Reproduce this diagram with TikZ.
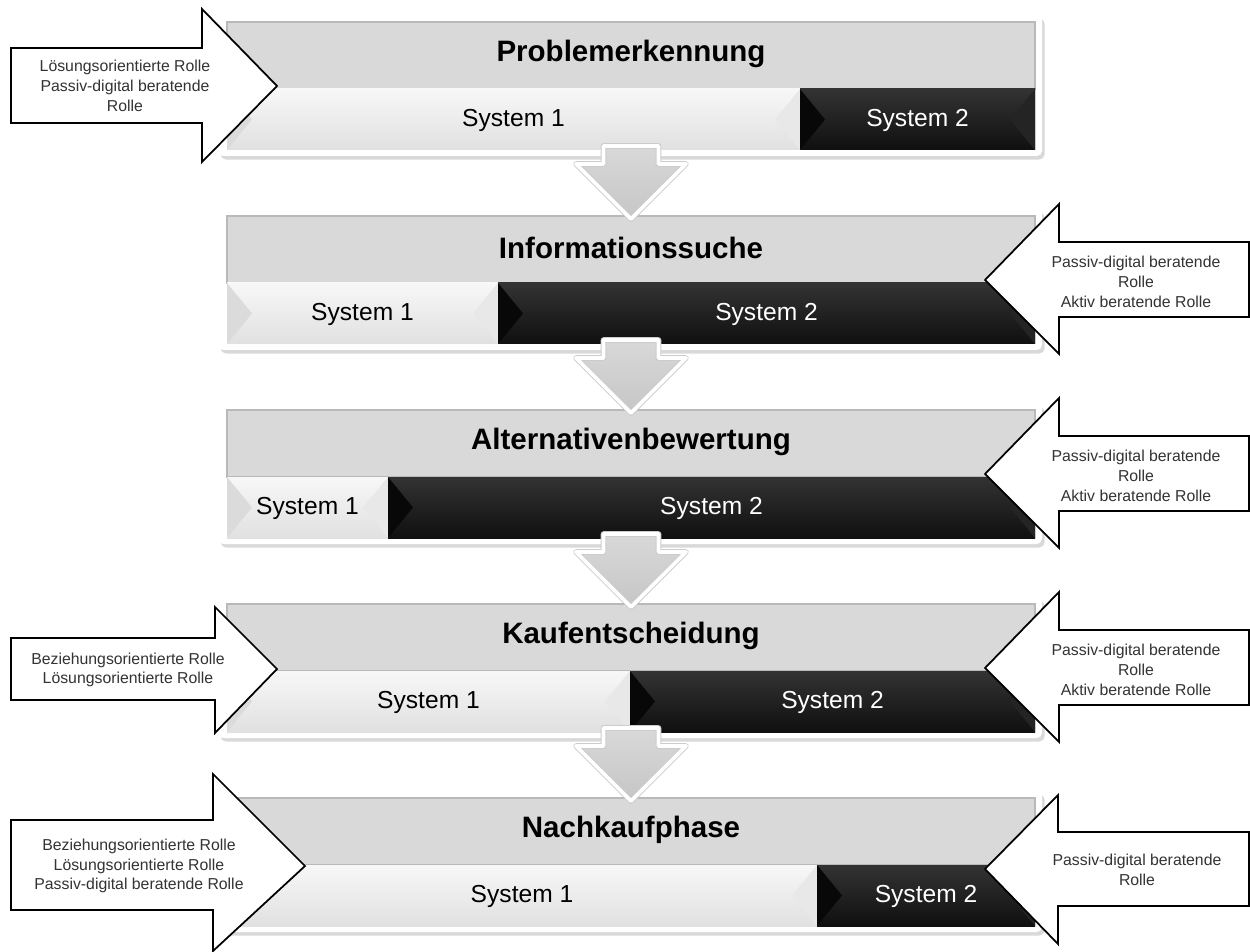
\documentclass[tikz,border=0pt]{standalone}
\usepackage{fontspec}
\setmainfont{Liberation Sans}
\usetikzlibrary{shadows,calc}

\definecolor{headgray}{HTML}{D9D9D9}
\definecolor{rolegray}{HTML}{333333}

\tikzset{
  frame/.style={fill=white, rounded corners=3pt,
    drop shadow={opacity=0.3, shadow xshift=1.5pt, shadow yshift=-2pt}},
  phasehead/.style={fill=headgray, draw=gray!55, line width=0.6pt},
  sysone/.style={top color=white!97!black, bottom color=white!88!black},
  systwo/.style={top color=black!80, bottom color=black!94},
  phasetitle/.style={font=\bfseries\fontsize{16.8}{20}\selectfont},
  syslabel/.style={font=\fontsize{14}{17}\selectfont},
  roletext/.style={font=\fontsize{9}{11.2}\selectfont, align=center, text=rolegray},
  rolearrow/.style={draw=black, line width=1pt, fill=white, line join=miter},
  downarrow/.style={top color=gray!30, bottom color=gray!45, draw=gray!40,
    double=white, double distance=2.2pt, line width=0.5pt, line join=round,
    drop shadow={opacity=0.2, shadow xshift=1pt, shadow yshift=-1pt}}
}

\begin{document}
\begin{tikzpicture}[x=0.02cm, y=-0.02cm]
  \useasboundingbox (0,0) rectangle (1250,952);

  % the five phases
  \foreach \i/\sx/\name/\title in {0/800/prob/Problemerkennung,
      1/498/info/Informationssuche, 2/388/alt/Alternativenbewertung,
      3/630/kauf/Kaufentscheidung, 4/817/nach/Nachkaufphase}{
    \pgfmathsetmacro\t{22+194*\i}
    \pgfmathsetmacro\m{\t+67}
    \pgfmathsetmacro\b{\t+128}
    \fill[frame] (218,\t-7) rectangle (1042,\b+6);
    \draw[phasehead] (227,\t) rectangle (1035,\m);
    \fill[sysone] (227,\m) rectangle (\sx,\b);
    \fill[systwo] (\sx,\m) rectangle (1035,\b);
    \fill[black!14] (227,\m) -- (252,\m+30.5) -- (227,\b) -- cycle;
    \fill[black!9] (\sx,\m) -- (\sx-25,\m+30.5) -- (\sx,\b) -- cycle;
    \fill[black!97] (\sx,\m) -- (\sx+25,\m+30.5) -- (\sx,\b) -- cycle;
    \fill[black!86] (1035,\m) -- (1010,\m+30.5) -- (1035,\b) -- cycle;
    \coordinate (\name-top) at (631,\t);
    \coordinate (\name-bot) at (631,\b);
    \node[phasetitle] (\name) at (631,\t+32) {\title};
    \node[syslabel] (\name-1) at ({(227+\sx)/2},\m+31) {System 1};
    \node[syslabel, text=white] (\name-2) at ({(\sx+1035)/2},\m+31) {System 2};
  }

  % arrows between the phases
  \foreach \a/\c in {prob/info, info/alt, alt/kauf, kauf/nach}
    \draw[downarrow] ($(\a-bot)+(-27.5,-4)$) -- ($(\a-bot)+(27.5,-4)$)
      -- ($(\c-top)+(27.5,-52)$) -- ($(\c-top)+(55,-52)$) -- ($(\c-top)+(0,3)$)
      -- ($(\c-top)+(-55,-52)$) -- ($(\c-top)+(-27.5,-52)$) -- cycle;

  % roles coming in from the left
  \draw[rolearrow] (11,48) -- (202,48) -- (202,9) -- (277,86) -- (202,162)
    -- (202,123) -- (11,123) -- cycle;
  \node[roletext] (left-prob) at (125,86)
    {Lösungsorientierte Rolle\\Passiv-digital beratende\\Rolle};
  \draw[rolearrow] (11,638) -- (215,638) -- (215,607) -- (277,669) -- (215,733)
    -- (215,700) -- (11,700) -- cycle;
  \node[roletext] (left-kauf) at (128,670)
    {Beziehungsorientierte Rolle\\Lösungsorientierte Rolle};
  \draw[rolearrow] (11,820) -- (213,820) -- (213,774) -- (305,866) -- (213,951)
    -- (213,910) -- (11,910) -- cycle;
  \node[roletext] (left-nach) at (139,866)
    {Beziehungsorientierte Rolle\\Lösungsorientierte Rolle\\Passiv-digital beratende Rolle};

  % roles coming in from the right
  \foreach \dy/\name in {0/info, 194/alt, 388/kauf}{
    \draw[rolearrow] (1249,242+\dy) -- (1059,242+\dy) -- (1059,204+\dy)
      -- (985,280+\dy) -- (1059,354+\dy) -- (1059,317+\dy) -- (1249,317+\dy) -- cycle;
    \node[roletext] (right-\name) at (1136,282+\dy)
      {Passiv-digital beratende\\Rolle\\Aktiv beratende Rolle};
  }
  \draw[rolearrow] (1249,832) -- (1058,832) -- (1058,795) -- (985,869) -- (1058,944)
    -- (1058,906) -- (1249,906) -- cycle;
  \node[roletext] (right-nach) at (1137,870) {Passiv-digital beratende\\Rolle};
\end{tikzpicture}
\end{document}
